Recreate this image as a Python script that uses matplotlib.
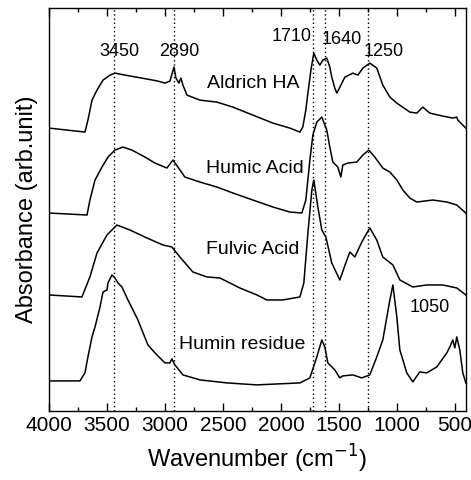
import matplotlib
matplotlib.use("Agg")
import matplotlib.pyplot as plt
from matplotlib.ticker import MultipleLocator

# wavenumber (cm-1) and absorbance (arb. unit, offset)
wn_aldrich = [4000, 3690, 3664, 3629, 3586, 3534, 3474, 3431, 3345, 3198, 3060, 3000, 2957, 2922, 2905, 2879,
              2862, 2845, 2810, 2698, 2552, 2414, 2242, 2069, 1923, 1836, 1811, 1785, 1767, 1741, 1716, 1690,
              1664, 1638, 1604, 1578, 1561, 1535, 1517, 1474, 1448, 1379, 1336, 1293, 1233, 1173, 1121, 1060,
              1000, 888, 828, 776, 716, 604, 517, 483, 474, 405]
ab_aldrich = [2.83, 2.79, 2.91, 3.11, 3.21, 3.31, 3.36, 3.38, 3.36, 3.33, 3.30, 3.28, 3.30, 3.44, 3.33, 3.28,
              3.33, 3.26, 3.16, 3.11, 3.09, 3.04, 2.96, 2.88, 2.83, 2.79, 2.84, 3.01, 3.18, 3.41, 3.58, 3.51,
              3.46, 3.51, 3.53, 3.44, 3.34, 3.23, 3.18, 3.28, 3.34, 3.38, 3.36, 3.43, 3.48, 3.43, 3.26, 3.14,
              3.08, 2.99, 2.98, 3.04, 2.98, 2.95, 2.93, 2.94, 2.91, 2.83]

wn_humic = [4000, 3672, 3647, 3603, 3543, 3491, 3431, 3362, 3285, 3172, 3086, 2983, 2931, 2888, 2828, 2698,
            2552, 2414, 2242, 2069, 1923, 1819, 1785, 1750, 1724, 1690, 1647, 1604, 1578, 1552, 1509, 1483,
            1466, 1423, 1345, 1293, 1242, 1190, 1121, 1060, 1000, 948, 888, 828, 690, 569, 483, 405]
ab_humic = [1.98, 1.96, 2.11, 2.31, 2.44, 2.54, 2.61, 2.64, 2.61, 2.54, 2.48, 2.43, 2.51, 2.44, 2.34, 2.29,
            2.24, 2.18, 2.11, 2.04, 1.99, 1.98, 2.11, 2.51, 2.76, 2.89, 2.94, 2.81, 2.64, 2.49, 2.44, 2.34,
            2.46, 2.48, 2.49, 2.56, 2.61, 2.54, 2.43, 2.39, 2.31, 2.21, 2.13, 2.09, 2.11, 2.09, 2.06, 1.98]

wn_fulvic = [4000, 3716, 3647, 3586, 3500, 3414, 3302, 3155, 3017, 2940, 2871, 2759, 2638, 2526, 2354, 2207,
             2121, 1983, 1836, 1802, 1767, 1733, 1716, 1681, 1647, 1612, 1561, 1492, 1431, 1405, 1362, 1302,
             1233, 1173, 1121, 1034, 974, 862, 742, 604, 483, 405]
ab_fulvic = [1.16, 1.14, 1.34, 1.58, 1.76, 1.86, 1.81, 1.73, 1.66, 1.64, 1.54, 1.39, 1.34, 1.33, 1.23, 1.16,
             1.11, 1.11, 1.14, 1.28, 1.78, 2.21, 2.31, 2.04, 1.81, 1.74, 1.48, 1.31, 1.51, 1.59, 1.54, 1.69,
             1.83, 1.71, 1.54, 1.46, 1.31, 1.24, 1.26, 1.26, 1.23, 1.16]

wn_humin = [4000, 3733, 3690, 3664, 3629, 3603, 3560, 3534, 3500, 3491, 3457, 3431, 3405, 3371, 3319, 3233,
            3147, 3086, 3000, 2957, 2940, 2914, 2845, 2698, 2466, 2207, 1836, 1750, 1690, 1647, 1621, 1595,
            1535, 1492, 1466, 1379, 1302, 1233, 1173, 1121, 1086, 1060, 1034, 1000, 974, 914, 862, 802, 742,
            655, 569, 543, 517, 500, 483, 457, 431, 405]
ab_humin = [0.30, 0.30, 0.38, 0.54, 0.74, 0.84, 1.04, 1.19, 1.21, 1.28, 1.36, 1.33, 1.28, 1.24, 1.11, 0.91,
            0.66, 0.58, 0.48, 0.48, 0.52, 0.46, 0.36, 0.31, 0.28, 0.26, 0.28, 0.33, 0.54, 0.71, 0.64, 0.48,
            0.41, 0.33, 0.35, 0.36, 0.33, 0.36, 0.54, 0.71, 0.94, 1.11, 1.26, 0.94, 0.61, 0.38, 0.29, 0.39,
            0.38, 0.44, 0.58, 0.64, 0.71, 0.63, 0.74, 0.61, 0.38, 0.28]

marker_lines = [3440, 2925, 1725, 1620, 1245]
peak_labels = ["3450", "2890", "1710", "1640", "1250"]
peak_label_x = [3390, 2880, 1905, 1475, 1110]
peak_label_y = [3.6, 3.6, 3.75, 3.72, 3.6]

sample_names = ["Aldrich HA", "Humic Acid", "Fulvic Acid", "Humin residue"]
sample_label_x = [2240, 2220, 2240, 2330]
sample_label_y = [3.28, 2.43, 1.61, 0.66]

plt.rcParams['font.family'] = ['Liberation Sans', 'DejaVu Sans']

fig = plt.figure(figsize=(4.71, 4.80), dpi=100)
ax = fig.add_axes([0.104, 0.144, 0.885, 0.839])

for w, a in [(wn_aldrich, ab_aldrich), (wn_humic, ab_humic), (wn_fulvic, ab_fulvic), (wn_humin, ab_humin)]:
    ax.plot(w, a, color='black', lw=1.1)

for xv in marker_lines:
    ax.axvline(xv, color='black', ls=(0, (1, 2)), lw=1.0)

for t, x, y in zip(peak_labels, peak_label_x, peak_label_y):
    ax.text(x, y, t, fontsize=13, ha='center', va='center')
ax.text(720, 1.03, "1050", fontsize=13, ha='center', va='center')

for t, x, y in zip(sample_names, sample_label_x, sample_label_y):
    ax.text(x, y, t, fontsize=14, ha='center', va='center')

ax.set_xlim(4000, 405)
ax.set_ylim(0, 4.03)
ax.xaxis.set_major_locator(MultipleLocator(500))
ax.xaxis.set_minor_locator(MultipleLocator(250))
ax.tick_params(axis='x', which='both', direction='in', top=True, labelsize=15)
ax.tick_params(axis='x', which='major', length=6, width=1)
ax.tick_params(axis='x', which='minor', length=3, width=1)
ax.set_yticks([])
ax.set_xlabel("Wavenumber (cm$^{-1}$)", fontsize=17, labelpad=6)
ax.set_ylabel("Absorbance (arb.unit)", fontsize=17, labelpad=8)
for s in ax.spines.values():
    s.set_linewidth(1.0)

fig.savefig("out.png", dpi=100)
